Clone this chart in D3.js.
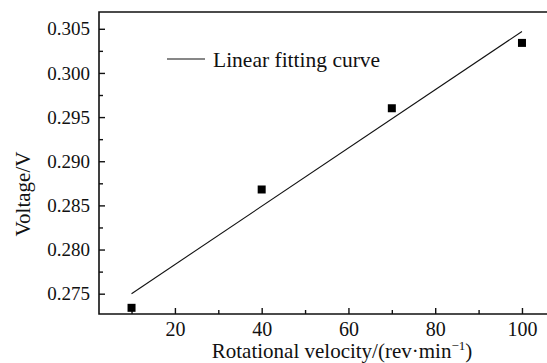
<!DOCTYPE html>
<html>
<head>
<meta charset="utf-8">
<script src="https://cdn.jsdelivr.net/npm/d3@7"></script>
<style>
  body { margin: 0; background: #fff; }
  svg text { font-family: "Liberation Serif", "DejaVu Serif", serif; fill: #111; }
</style>
</head>
<body>
<div id="chart"></div>
<script>
// measured points
const velocity = [10, 40, 70, 100];
const voltage = [0.2734, 0.2868, 0.2960, 0.3034];

// fitted line end points
const fitVelocity = [10, 100];
const fitVoltage = [0.2750, 0.3047];

const xTicks = [20, 40, 60, 80, 100];
const xMinor = [10, 30, 50, 70, 90];
const yTicks = [0.275, 0.280, 0.285, 0.290, 0.295, 0.300, 0.305];
const yMinor = [0.2775, 0.2825, 0.2875, 0.2925, 0.2975, 0.3025];

const W = 547, H = 363;
const margin = { left: 99, top: 12, right: 548, bottom: 314 };
const serif = '"Liberation Serif", "DejaVu Serif", serif';

const svg = d3.select("#chart")
  .append("svg")
  .attr("width", W)
  .attr("height", H);

const x = d3.scaleLinear().domain([2.5, 106]).range([margin.left, margin.right]);
const y = d3.scaleLinear().domain([0.2727, 0.3069]).range([margin.bottom, margin.top]);

// x axis (ticks pointing inward)
const gx = svg.append("g").attr("transform", `translate(0,${margin.bottom})`);
gx.call(d3.axisTop(x).tickValues(xTicks).tickSize(6).tickFormat(d3.format("d")));
gx.append("g").call(d3.axisTop(x).tickValues(xMinor).tickSize(4).tickFormat(""));
gx.attr("font-family", serif);
gx.selectAll(".domain").remove();
gx.selectAll("text")
  .attr("y", 22)
  .style("font-family", serif)
  .style("font-size", "20px");

// y axis (ticks pointing inward)
const gy = svg.append("g").attr("transform", `translate(${margin.left},0)`);
gy.call(d3.axisRight(y).tickValues(yTicks).tickSize(6).tickFormat(d3.format(".3f")));
gy.append("g").call(d3.axisRight(y).tickValues(yMinor).tickSize(4).tickFormat(""));
gy.attr("font-family", serif);
gy.selectAll(".domain").remove();
gy.selectAll("text")
  .attr("x", -9)
  .attr("text-anchor", "end")
  .style("font-family", serif)
  .style("font-size", "19px");

svg.selectAll(".tick line").attr("stroke", "#111").attr("stroke-width", 1.4);

// frame: left, bottom, top
svg.append("path")
  .attr("d", `M${margin.right},${margin.top}H${margin.left}V${margin.bottom}H${margin.right}`)
  .attr("fill", "none")
  .attr("stroke", "#111")
  .attr("stroke-width", 1.6);

// fit line
svg.append("line")
  .attr("x1", x(fitVelocity[0])).attr("y1", y(fitVoltage[0]))
  .attr("x2", x(fitVelocity[1])).attr("y2", y(fitVoltage[1]))
  .attr("stroke", "#111")
  .attr("stroke-width", 1.1);

// square markers
const s = 8;
svg.selectAll("rect.pt")
  .data(velocity)
  .enter()
  .append("rect")
  .attr("class", "pt")
  .attr("x", (d) => x(d) - s / 2)
  .attr("y", (d, i) => y(voltage[i]) - s / 2)
  .attr("width", s)
  .attr("height", s)
  .attr("fill", "#000");

// legend
svg.append("line")
  .attr("x1", 167).attr("x2", 205)
  .attr("y1", 59).attr("y2", 59)
  .attr("stroke", "#111")
  .attr("stroke-width", 1.1);
svg.append("text")
  .attr("x", 213).attr("y", 67)
  .style("font-size", "21.5px")
  .text("Linear fitting curve");

// axis titles
const xt = svg.append("text")
  .attr("x", 342).attr("y", 358)
  .attr("text-anchor", "middle")
  .style("font-size", "21px")
  .text("Rotational velocity/(rev·min");
xt.append("tspan").attr("dy", -8).style("font-size", "13px").text("−1");
xt.append("tspan").attr("dy", 8).text(")");

svg.append("text")
  .attr("transform", "translate(30,194) rotate(-90)")
  .attr("text-anchor", "middle")
  .style("font-size", "21px")
  .text("Voltage/V");
</script>
</body>
</html>
